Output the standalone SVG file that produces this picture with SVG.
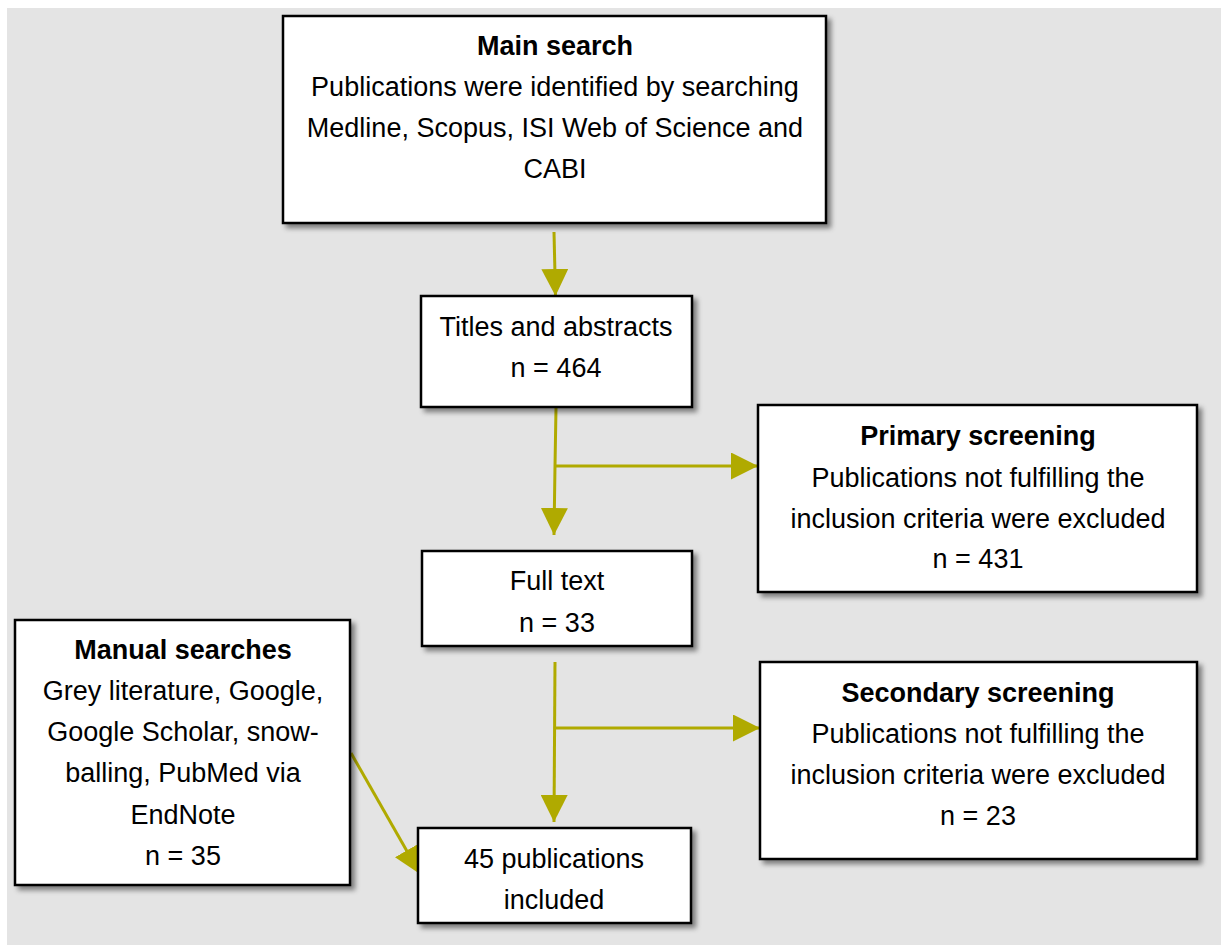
<svg xmlns="http://www.w3.org/2000/svg" width="1221" height="945" viewBox="0 0 1221 945">
<defs>
<filter id="sh" x="-10%" y="-10%" width="130%" height="130%">
<feDropShadow dx="4" dy="4" stdDeviation="2.5" flood-color="#000" flood-opacity="0.45"/>
</filter>
<marker id="ah" markerWidth="9" markerHeight="9" refX="9" refY="4.5" orient="auto" markerUnits="strokeWidth">
<path d="M0,0 L9,4.5 L0,9 Z" fill="#b0aa00"/>
</marker>
</defs>
<style>
.box{fill:#fff;stroke:#000;stroke-width:2.5;filter:url(#sh)}
text{font-family:"Liberation Sans",Arial,sans-serif;font-size:27px;fill:#000;text-anchor:middle}
.b{font-weight:bold}
.c{stroke:#b0aa00;stroke-width:3;fill:none}
</style>
<rect x="7" y="8" width="1214" height="937" fill="#e4e4e4"/>
<g id="connectors">
<line class="c" x1="554" y1="232" x2="555.5" y2="296" marker-end="url(#ah)"/>
<path class="c" d="M556,408 L555,466 L554,535" marker-end="url(#ah)"/>
<line class="c" x1="555" y1="466" x2="758" y2="466" marker-end="url(#ah)"/>
<line class="c" x1="555" y1="662" x2="554" y2="822" marker-end="url(#ah)"/>
<line class="c" x1="555" y1="728" x2="760" y2="728" marker-end="url(#ah)"/>
<line class="c" x1="351" y1="753" x2="420" y2="874" marker-end="url(#ah)"/>
</g>
<g id="main-search">
<rect class="box" x="283" y="16" width="543" height="207"/>
<text x="555" y="55" class="b">Main search</text>
<text x="555" y="96">Publications were identified by searching</text>
<text x="555" y="137">Medline, Scopus, ISI Web of Science and</text>
<text x="555" y="178">CABI</text>
</g>
<g id="titles-abstracts">
<rect class="box" x="421" y="296" width="271" height="111"/>
<text x="556" y="336">Titles and abstracts</text>
<text x="556" y="377">n = 464</text>
</g>
<g id="primary-screening">
<rect class="box" x="758" y="405" width="439" height="187"/>
<text x="978" y="445" class="b">Primary screening</text>
<text x="978" y="487">Publications not fulfilling the</text>
<text x="978" y="528">inclusion criteria were excluded</text>
<text x="978" y="568">n = 431</text>
</g>
<g id="full-text">
<rect class="box" x="422" y="551" width="270" height="95"/>
<text x="557" y="590">Full text</text>
<text x="557" y="632">n = 33</text>
</g>
<g id="secondary-screening">
<rect class="box" x="760" y="662" width="437" height="197"/>
<text x="978" y="702" class="b">Secondary screening</text>
<text x="978" y="743">Publications not fulfilling the</text>
<text x="978" y="784">inclusion criteria were excluded</text>
<text x="978" y="825">n = 23</text>
</g>
<g id="manual-searches">
<rect class="box" x="15" y="620" width="335" height="265"/>
<text x="183" y="659" class="b">Manual searches</text>
<text x="183" y="700">Grey literature, Google,</text>
<text x="183" y="741">Google Scholar, snow-</text>
<text x="183" y="782">balling, PubMed via</text>
<text x="183" y="824">EndNote</text>
<text x="183" y="865">n = 35</text>
</g>
<g id="included">
<rect class="box" x="418" y="828" width="273" height="95"/>
<text x="554" y="868">45 publications</text>
<text x="554" y="909">included</text>
</g>
</svg>
